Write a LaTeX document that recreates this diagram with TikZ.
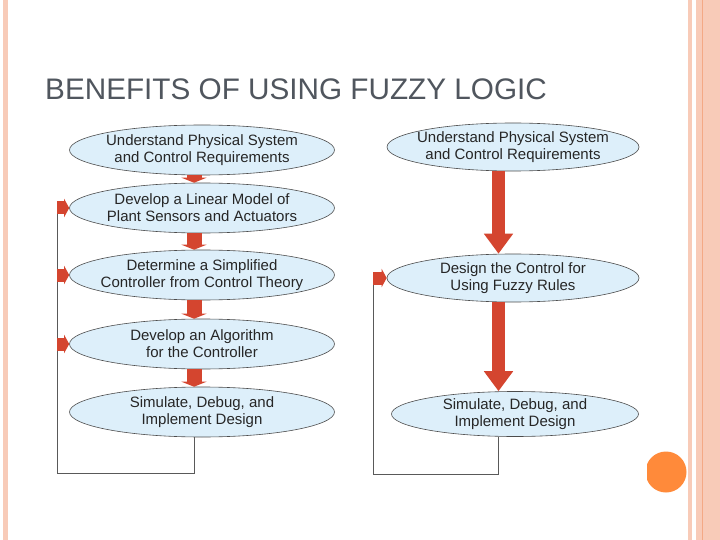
\documentclass[tikz,border=0pt]{standalone}
\usepackage{fontspec}
\setmainfont{Liberation Sans}
\usetikzlibrary{shapes.geometric,arrows.meta}
\definecolor{stripe}{HTML}{F8CBB8}
\definecolor{stripedark}{HTML}{F4A985}
\definecolor{dot}{HTML}{FF8A3A}
\definecolor{titlegray}{HTML}{50565E}
\definecolor{stepfill}{HTML}{DDEFFA}
\definecolor{arrowred}{HTML}{D4452F}

\begin{document}
\begin{tikzpicture}[x=1pt,y=1pt,
  stepbox/.style={ellipse,draw=black!70,line width=0.6pt,fill=stepfill,
    inner xsep=-15pt,inner ysep=-6pt,minimum width=265pt,minimum height=50pt,
    align=center,font=\fontsize{15}{17}\selectfont,text=black!85},
  fuzzybox/.style={stepbox,minimum width=252pt,minimum height=48pt},
  flowarrow/.style={draw=arrowred,line width=15pt,
    -{Triangle[width=25pt,length=5pt]}},
  sidearrow/.style={draw=arrowred,line width=13pt,
    -{Triangle[width=18pt,length=5pt]}},
  bigarrow/.style={draw=arrowred,line width=13pt,
    -{Triangle[width=28pt,length=20pt]}},
  loopline/.style={draw=black!65,line width=0.8pt}]
\useasboundingbox (0,0) rectangle (720,-540);
\fill[white] (0,0) rectangle (720,-540);
% slide frame
\fill[stripe] (3,0) rectangle (8,-540);
\fill[stripe] (688,0) rectangle (692,-540);
\fill[stripe] (696,0) rectangle (720,-540);
\fill[stripedark] (701.7,0) rectangle (702.9,-540);
\fill[stripedark!60] (707.7,0) rectangle (708.7,-540);
\begin{scope}
\clip (647,-440) rectangle (700,-500);
\fill[dot] (666,-472) circle (20.5);
\end{scope}
\node[anchor=base west,inner sep=0pt,text=titlegray,
  font=\fontsize{29.7}{32}\selectfont] (title) at (45,-100)
  {BENEFITS OF USING FUZZY LOGIC};

% conventional design
\node[stepbox] (e1) at (202,-150) {Understand Physical System\\and Control Requirements};
\node[stepbox] (e2) at (202,-208) {Develop a Linear Model of\\Plant Sensors and Actuators};
\node[stepbox] (e3) at (202,-275) {Determine a Simplified\\Controller from Control Theory};
\node[stepbox] (e4) at (202,-344) {Develop an Algorithm\\for the Controller};
\node[stepbox] (e5) at (202,-412) {Simulate, Debug, and\\Implement Design};
\draw[flowarrow] ([xshift=-8pt]e1.south) -- ([xshift=-8pt]e2.north);
\draw[flowarrow] ([xshift=-8pt]e2.south) -- ([xshift=-8pt]e3.north);
\draw[flowarrow] ([xshift=-8pt]e3.south) -- ([xshift=-8pt]e4.north);
\draw[flowarrow] ([xshift=-8pt]e4.south) -- ([xshift=-8pt]e5.north);
\coordinate (lcorner) at (57,-473);
\draw[loopline] ([xshift=-8pt]e5.south) |- (lcorner) -- (lcorner |- e2.west);
\draw[sidearrow] (lcorner |- e2.west) -- (e2.west);
\draw[sidearrow] (lcorner |- e3.west) -- (e3.west);
\draw[sidearrow] (lcorner |- e4.west) -- (e4.west);

% fuzzy design
\node[fuzzybox] (r1) at (513,-147) {Understand Physical System\\and Control Requirements};
\node[fuzzybox] (r2) at (513,-278) {Design the Control for\\Using Fuzzy Rules};
\node[fuzzybox,minimum width=247pt,minimum height=45pt] (r3) at (515,-414) {Simulate, Debug, and\\Implement Design};
\draw[bigarrow] ([xshift=-14.5pt]r1.south) -- ([xshift=-14.5pt]r2.north);
\draw[bigarrow] ([xshift=-14.5pt]r2.south) -- ([xshift=-16.5pt]r3.north);
\coordinate (rcorner) at (373,-474);
\draw[loopline] ([xshift=-16.5pt]r3.south) |- (rcorner) -- (rcorner |- r2.west);
\draw[sidearrow] (rcorner |- r2.west) -- (r2.west);
\end{tikzpicture}
\end{document}
